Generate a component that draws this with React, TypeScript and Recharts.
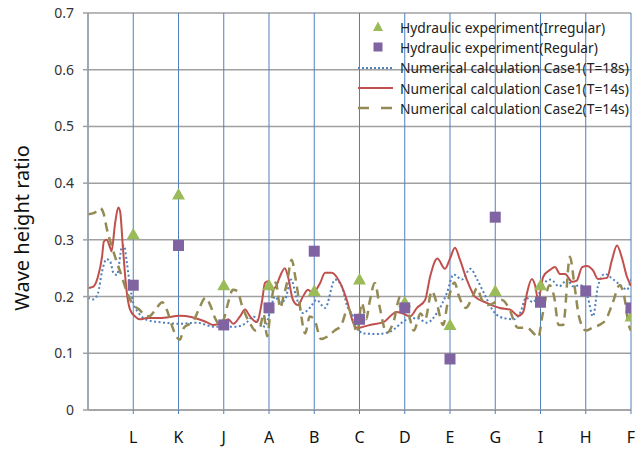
import React from 'react';
import { ComposedChart, Line, Scatter, XAxis, YAxis, CartesianGrid } from 'recharts';

const stations = ['L', 'K', 'J', 'A', 'B', 'C', 'D', 'E', 'G', 'I', 'H', 'F'];
const stationPositions = [1, 2, 3, 4, 5, 6, 7, 8, 9, 10, 11, 12];
const irregularValues: (number | null)[] = [0.31, 0.38, 0.22, 0.22, 0.21, 0.23, 0.19, 0.15, 0.21, 0.22, null, 0.165];
const regularValues: (number | null)[] = [0.22, 0.29, 0.15, 0.18, 0.28, 0.16, 0.18, 0.09, 0.34, 0.19, 0.21, 0.18];
const yTicks = [0, 0.1, 0.2, 0.3, 0.4, 0.5, 0.6, 0.7];

// [position, wave height ratio]
const case1T18s: [number, number][] = [
  [0, 0.198], [0.11, 0.195], [0.22, 0.206], [0.31, 0.244], [0.41, 0.266], [0.49, 0.262], [0.56, 0.242],
  [0.64, 0.238], [0.75, 0.288], [0.8, 0.29], [0.85, 0.265], [0.93, 0.218], [1.0, 0.189], [1.12, 0.171],
  [1.3, 0.159], [1.67, 0.154], [2.03, 0.152], [2.4, 0.154], [2.77, 0.147], [3.06, 0.147], [3.28, 0.147],
  [3.5, 0.154], [3.65, 0.165], [3.8, 0.154], [3.91, 0.147], [4.02, 0.173], [4.13, 0.2], [4.24, 0.19],
  [4.35, 0.194], [4.49, 0.23], [4.6, 0.2], [4.75, 0.171], [4.9, 0.18], [5.05, 0.194], [5.24, 0.18],
  [5.46, 0.23], [5.61, 0.218], [5.72, 0.185], [5.86, 0.165], [5.96, 0.145], [6.08, 0.135], [6.38, 0.134],
  [6.67, 0.138], [7.04, 0.159], [7.27, 0.162], [7.49, 0.154], [7.71, 0.171], [7.93, 0.206], [8.08, 0.239],
  [8.26, 0.23], [8.45, 0.249], [8.6, 0.23], [8.75, 0.206], [8.97, 0.173], [9.19, 0.162], [9.42, 0.16],
  [9.56, 0.173], [9.68, 0.198], [9.83, 0.19], [9.97, 0.206], [10.08, 0.224], [10.23, 0.23], [10.41, 0.218],
  [10.6, 0.23], [10.71, 0.218], [10.89, 0.22], [11.04, 0.2], [11.16, 0.165], [11.27, 0.218], [11.42, 0.24],
  [11.61, 0.23], [11.8, 0.218], [11.91, 0.212], [12.0, 0.23],
];

const case1T14s: [number, number][] = [
  [0, 0.215], [0.11, 0.217], [0.22, 0.235], [0.31, 0.27], [0.35, 0.297], [0.41, 0.3], [0.49, 0.286],
  [0.52, 0.28], [0.6, 0.33], [0.67, 0.357], [0.71, 0.35], [0.77, 0.288], [0.85, 0.212], [0.93, 0.177],
  [1.04, 0.165], [1.15, 0.16], [1.3, 0.162], [1.59, 0.162], [2.03, 0.166], [2.28, 0.164], [2.62, 0.155],
  [2.77, 0.15], [2.99, 0.155], [3.1, 0.16], [3.21, 0.152], [3.36, 0.165], [3.47, 0.177], [3.58, 0.165],
  [3.73, 0.155], [3.85, 0.194], [3.91, 0.224], [3.98, 0.227], [4.06, 0.212], [4.15, 0.217], [4.24, 0.235],
  [4.35, 0.25], [4.42, 0.235], [4.53, 0.194], [4.64, 0.185], [4.75, 0.2], [4.86, 0.212], [4.97, 0.206],
  [5.13, 0.224], [5.24, 0.242], [5.39, 0.242], [5.53, 0.23], [5.72, 0.194], [5.86, 0.154], [5.94, 0.145],
  [6.05, 0.146], [6.23, 0.15], [6.53, 0.155], [6.82, 0.173], [6.96, 0.17], [7.12, 0.165], [7.27, 0.18],
  [7.45, 0.194], [7.56, 0.235], [7.72, 0.267], [7.89, 0.249], [8.0, 0.267], [8.11, 0.286], [8.22, 0.265],
  [8.37, 0.23], [8.55, 0.2], [8.81, 0.189], [9.1, 0.18], [9.33, 0.177], [9.51, 0.166], [9.62, 0.173],
  [9.7, 0.206], [9.81, 0.231], [9.88, 0.22], [9.95, 0.194], [10.06, 0.235], [10.21, 0.247], [10.32, 0.252],
  [10.43, 0.24], [10.54, 0.24], [10.7, 0.226], [10.8, 0.228], [10.92, 0.252], [11.03, 0.254], [11.16, 0.246],
  [11.27, 0.231], [11.47, 0.233], [11.58, 0.265], [11.69, 0.29], [11.8, 0.268], [11.91, 0.235], [12.0, 0.219],
];

const case2T14s: [number, number][] = [
  [0, 0.345], [0.15, 0.348], [0.27, 0.356], [0.35, 0.345], [0.42, 0.318], [0.52, 0.29], [0.64, 0.26],
  [0.75, 0.235], [0.85, 0.21], [0.93, 0.195], [1.0, 0.185], [1.12, 0.178], [1.25, 0.168], [1.35, 0.165],
  [1.5, 0.178], [1.64, 0.19], [1.75, 0.175], [1.85, 0.15], [1.95, 0.13], [2.03, 0.124], [2.12, 0.145],
  [2.25, 0.152], [2.35, 0.16], [2.45, 0.178], [2.6, 0.198], [2.7, 0.185], [2.82, 0.16], [2.92, 0.15],
  [3.0, 0.16], [3.1, 0.19], [3.2, 0.212], [3.3, 0.21], [3.4, 0.185], [3.5, 0.165], [3.6, 0.15],
  [3.7, 0.14], [3.8, 0.145], [3.88, 0.17], [3.96, 0.13], [4.05, 0.19], [4.15, 0.225], [4.25, 0.18],
  [4.32, 0.2], [4.4, 0.225], [4.5, 0.265], [4.58, 0.235], [4.67, 0.19], [4.8, 0.135], [4.9, 0.165],
  [5.0, 0.16], [5.15, 0.125], [5.3, 0.13], [5.45, 0.14], [5.6, 0.15], [5.75, 0.18], [5.85, 0.16],
  [5.95, 0.136], [6.05, 0.189], [6.15, 0.16], [6.22, 0.189], [6.34, 0.224], [6.45, 0.18], [6.6, 0.136],
  [6.75, 0.155], [6.9, 0.2], [7.0, 0.19], [7.1, 0.165], [7.2, 0.14], [7.35, 0.17], [7.45, 0.16],
  [7.6, 0.21], [7.7, 0.19], [7.85, 0.15], [7.95, 0.19], [8.1, 0.225], [8.2, 0.2], [8.35, 0.18],
  [8.5, 0.2], [8.6, 0.215], [8.7, 0.195], [8.85, 0.185], [9.0, 0.19], [9.15, 0.194], [9.3, 0.18],
  [9.5, 0.145], [9.7, 0.145], [9.85, 0.135], [9.95, 0.128], [10.05, 0.17], [10.2, 0.22], [10.3, 0.2],
  [10.4, 0.15], [10.5, 0.15], [10.65, 0.27], [10.75, 0.22], [10.85, 0.165], [11.0, 0.14], [11.15, 0.145],
  [11.3, 0.15], [11.45, 0.16], [11.6, 0.19], [11.75, 0.22], [11.85, 0.2], [11.95, 0.15], [12.0, 0.14],
];

const toPoints = (arr: [number, number][]) => arr.map(([x, y]) => ({ x, y }));
const toMarkers = (vals: (number | null)[]) =>
  stationPositions
    .map((x, i) => ({ x, y: vals[i] }))
    .filter((d) => d.y !== null);

const GREEN = '#9bbb59';
const PURPLE = '#8064a2';
const BLUE = '#4f81bd';
const RED = '#c0504d';
const OLIVE = '#948a54';
const GRID = '#a0a0a0';
const FONT = '"Noto Sans", sans-serif';

const Triangle = (props: any) => {
  const { cx, cy } = props;
  if (cx == null || cy == null) return null;
  return <polygon points={`${cx},${cy - 6.5} ${cx + 6.5},${cy + 5} ${cx - 6.5},${cy + 5}`} fill={GREEN} />;
};
const Square = (props: any) => {
  const { cx, cy } = props;
  if (cx == null || cy == null) return null;
  return <rect x={cx - 5.5} y={cy - 5.5} width={11} height={11} fill={PURPLE} />;
};

const legendItems = [
  { label: 'Hydraulic experiment(Irregular)', kind: 'tri' },
  { label: 'Hydraulic experiment(Regular)', kind: 'sq' },
  { label: 'Numerical calculation Case1(T=18s)', kind: 'dot' },
  { label: 'Numerical calculation Case1(T=14s)', kind: 'solid' },
  { label: 'Numerical calculation Case2(T=14s)', kind: 'dash' },
];

const LegendIcon = ({ kind }: { kind: string }) => (
  <svg width={40} height={20} style={{ display: 'block', flex: 'none' }}>
    {kind === 'tri' && <polygon points="23,4.5 28,14 18,14" fill={GREEN} />}
    {kind === 'sq' && <rect x={18.5} y={5.5} width={9} height={9} fill={PURPLE} />}
    {kind === 'dot' && <line x1={3} y1={10} x2={38} y2={10} stroke={BLUE} strokeWidth={2} strokeDasharray="2 2" />}
    {kind === 'solid' && <line x1={3} y1={10} x2={38} y2={10} stroke={RED} strokeWidth={2} />}
    {kind === 'dash' && <line x1={3} y1={10} x2={38} y2={10} stroke={OLIVE} strokeWidth={2.5} strokeDasharray="11 12" />}
  </svg>
);

export default function App() {
  return (
    <div style={{ position: 'absolute', left: 0, top: 0, width: 643, height: 450, background: '#fff', fontFamily: FONT }}>
      <ComposedChart width={643} height={450} margin={{ top: 13, right: 12, bottom: 0, left: 28 }}>
        <CartesianGrid vertical={false} stroke={GRID} strokeWidth={1.5} />
        <CartesianGrid horizontal={false} stroke={BLUE} strokeWidth={1} />
        <XAxis
          type="number"
          dataKey="x"
          domain={[0, 12]}
          ticks={stationPositions}
          tickFormatter={(v: number) => stations[v - 1] ?? ''}
          allowDataOverflow
          height={40}
          axisLine={{ stroke: GRID, strokeWidth: 1.5 }}
          tickLine={{ stroke: BLUE }}
          tickSize={4}
          tickMargin={18}
          tick={{ fill: '#111', fontSize: 16, fontFamily: FONT }}
        />
        <YAxis
          type="number"
          dataKey="y"
          domain={[0, 0.7]}
          ticks={yTicks}
          tickFormatter={(v: number) => (v === 0 ? '0' : v.toFixed(1))}
          width={60}
          axisLine={{ stroke: GRID, strokeWidth: 1.5 }}
          tickLine={{ stroke: GRID, strokeWidth: 1.5 }}
          tickSize={5}
          tickMargin={9}
          tick={{ fill: '#333', fontSize: 14, fontFamily: FONT }}
        />
        <Line data={toPoints(case1T18s)} dataKey="y" type="monotone" stroke={BLUE} strokeWidth={2} strokeDasharray="2 2.5" dot={false} isAnimationActive={false} />
        <Line data={toPoints(case1T14s)} dataKey="y" type="monotone" stroke={RED} strokeWidth={2} dot={false} isAnimationActive={false} />
        <Line data={toPoints(case2T14s)} dataKey="y" type="monotone" stroke={OLIVE} strokeWidth={2.5} strokeDasharray="9 6" dot={false} isAnimationActive={false} />
        <Scatter data={toMarkers(irregularValues)} dataKey="y" shape={Triangle} isAnimationActive={false} />
        <Scatter data={toMarkers(regularValues)} dataKey="y" shape={Square} isAnimationActive={false} />
      </ComposedChart>
      <div
        style={{
          position: 'absolute', left: -98, top: 216, width: 240, height: 24, lineHeight: '24px',
          textAlign: 'center', transform: 'rotate(-90deg)', fontSize: 20, color: '#111', fontFamily: FONT,
          whiteSpace: 'nowrap',
        }}
      >
        Wave height ratio
      </div>
      <div style={{ position: 'absolute', left: 355, top: 17, width: 280 }}>
        {legendItems.map((it) => (
          <div key={it.label} style={{ display: 'flex', alignItems: 'center', height: 20.3 }}>
            <LegendIcon kind={it.kind} />
            <span style={{ marginLeft: 5, fontSize: 13.8, color: '#222', whiteSpace: 'nowrap', fontFamily: FONT }}>{it.label}</span>
          </div>
        ))}
      </div>
    </div>
  );
}
